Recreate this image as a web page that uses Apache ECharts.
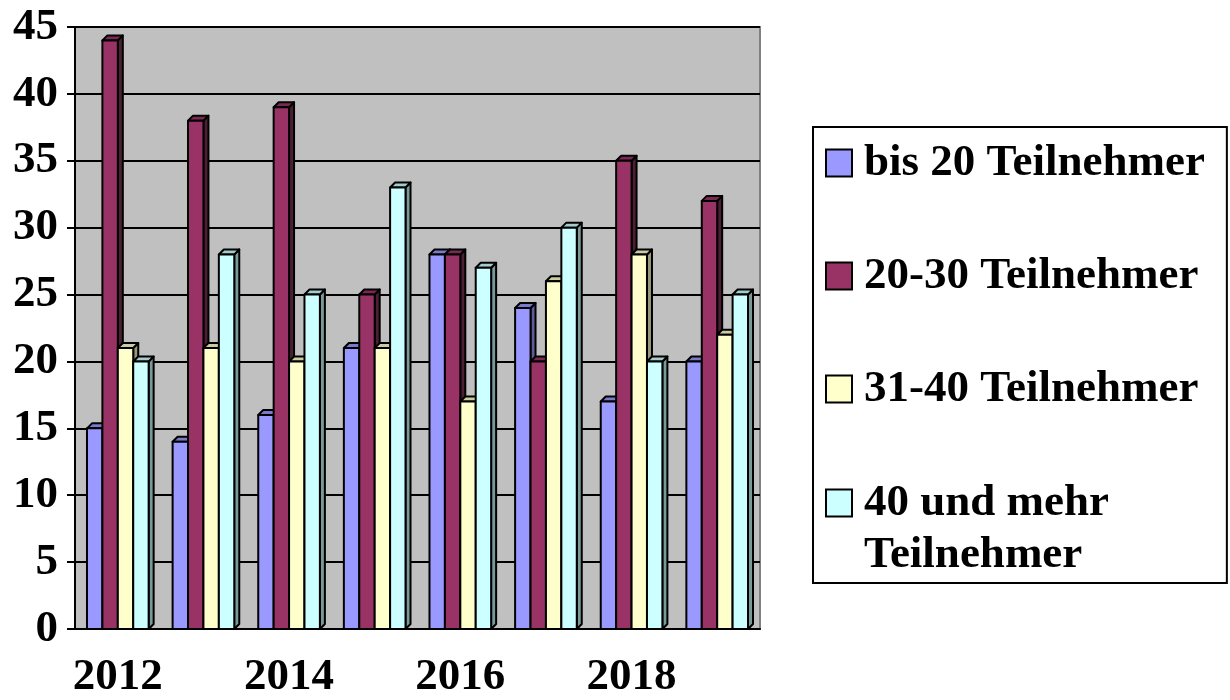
<!DOCTYPE html>
<html>
<head>
<meta charset="utf-8">
<script src="https://cdn.jsdelivr.net/npm/echarts@6/dist/echarts.min.js"></script>
<style>
  html, body { margin: 0; padding: 0; background: #fff; }
  #main { width: 1230px; height: 700px; }
</style>
</head>
<body>
<div id="main"></div>
<script>
var years = ['2012', '2013', '2014', '2015', '2016', '2017', '2018', '2019'];
var bis20 = [15, 14, 16, 21, 28, 24, 17, 20];
var t20to30 = [44, 38, 39, 25, 28, 20, 35, 32];
var t31to40 = [21, 21, 20, 21, 17, 26, 28, 22];
var t40plus = [20, 28, 25, 33, 27, 30, 20, 25];
var names = ['bis 20 Teilnehmer', '20-30 Teilnehmer', '31-40 Teilnehmer', '40 und mehr Teilnehmer'];

var values = [bis20, t20to30, t31to40, t40plus];
var colors = ['#9999ff', '#993366', '#ffffcc', '#ccffff'];
var sideColors = ['#5c5c99', '#4d1f33', '#99997a', '#7a9999'];
var topColors = ['#7a7acc', '#7a2952', '#cccca3', '#a3cccc'];
var font = '"Liberation Serif", "Times New Roman", serif';

// 3D-ish column like old Excel charts
function bar3d(k) {
  return function (params, api) {
    var i = api.value(0);
    var v = api.value(1);
    var p0 = api.coord([i, 0]);
    var p1 = api.coord([i, v]);
    var cw = api.size([1, 0])[0];
    var bw = cw * 0.18;
    var d = 5;
    var x = p0[0] - 2 * bw + k * bw;
    var yb = p0[1], yt = p1[1];
    var line = { stroke: '#000', lineWidth: 2, lineJoin: 'round' };
    return {
      type: 'group',
      children: [
        { type: 'polygon', shape: { points: [[x + bw, yt], [x + bw + d, yt - d], [x + bw + d, yb - d], [x + bw, yb]] },
          style: Object.assign({ fill: sideColors[k] }, line) },
        { type: 'polygon', shape: { points: [[x, yt], [x + d, yt - d], [x + bw + d, yt - d], [x + bw, yt]] },
          style: Object.assign({ fill: topColors[k] }, line) },
        { type: 'rect', shape: { x: x, y: yt, width: bw, height: yb - yt },
          style: Object.assign({ fill: colors[k] }, line) }
      ]
    };
  };
}

var series = values.map(function (arr, k) {
  return {
    name: names[k],
    type: 'custom',
    renderItem: bar3d(k),
    itemStyle: { color: colors[k], borderColor: '#000', borderWidth: 2 },
    encode: { x: 0, y: 1 },
    data: arr.map(function (v, i) { return [i, v]; })
  };
});

var txt = { fontFamily: font, fontWeight: 'bold', fontSize: 45, color: '#000', lineHeight: 52 };
var legendText = Object.assign({ rich: { a: Object.assign({ padding: [0, 0, 0, 7] }, txt) } }, txt);

var chart = echarts.init(document.getElementById('main'));
chart.setOption({
  animation: false,
  grid: {
    left: 75, right: 470, top: 27, bottom: 68,
    show: true, backgroundColor: '#c0c0c0', borderColor: '#808080', borderWidth: 2
  },
  legend: [
    {
      data: names.slice(0, 3),
      orient: 'vertical',
      left: 813, top: 127,
      padding: [10, 22, 168, 12],
      itemGap: 61,
      itemWidth: 26, itemHeight: 27,
      icon: 'rect',
      borderColor: '#000', borderWidth: 2,
      itemStyle: { borderColor: '#000', borderWidth: 2 },
      formatter: function (name) { return '{a|' + name + '}'; },
      textStyle: legendText,
      selectedMode: false
    },
    {
      data: names.slice(3),
      orient: 'vertical',
      left: 825, top: 425,
      padding: 0,
      itemWidth: 26, itemHeight: 27,
      icon: 'rect',
      itemStyle: { borderColor: '#000', borderWidth: 2 },
      formatter: function () { return '{a| }\n{a|40 und mehr}\n{a|Teilnehmer}'; },
      textStyle: legendText,
      selectedMode: false
    }
  ],
  xAxis: {
    type: 'category',
    data: years,
    axisLine: { lineStyle: { color: '#000', width: 2 } },
    axisTick: { interval: 0, length: 8, lineStyle: { color: '#000', width: 2 } },
    axisLabel: { interval: 1, margin: 26, fontFamily: font, fontWeight: 'bold', fontSize: 45, color: '#000' },
    splitLine: { show: false }
  },
  yAxis: {
    type: 'value',
    min: 0, max: 45, interval: 5,
    axisLine: { show: true, lineStyle: { color: '#000', width: 2 } },
    axisTick: { show: true, length: 8, lineStyle: { color: '#000', width: 2 } },
    axisLabel: { margin: 17, fontFamily: font, fontWeight: 'bold', fontSize: 45, color: '#000' },
    splitLine: { lineStyle: { color: '#000', width: 2 } }
  },
  series: series
});
</script>
</body>
</html>
